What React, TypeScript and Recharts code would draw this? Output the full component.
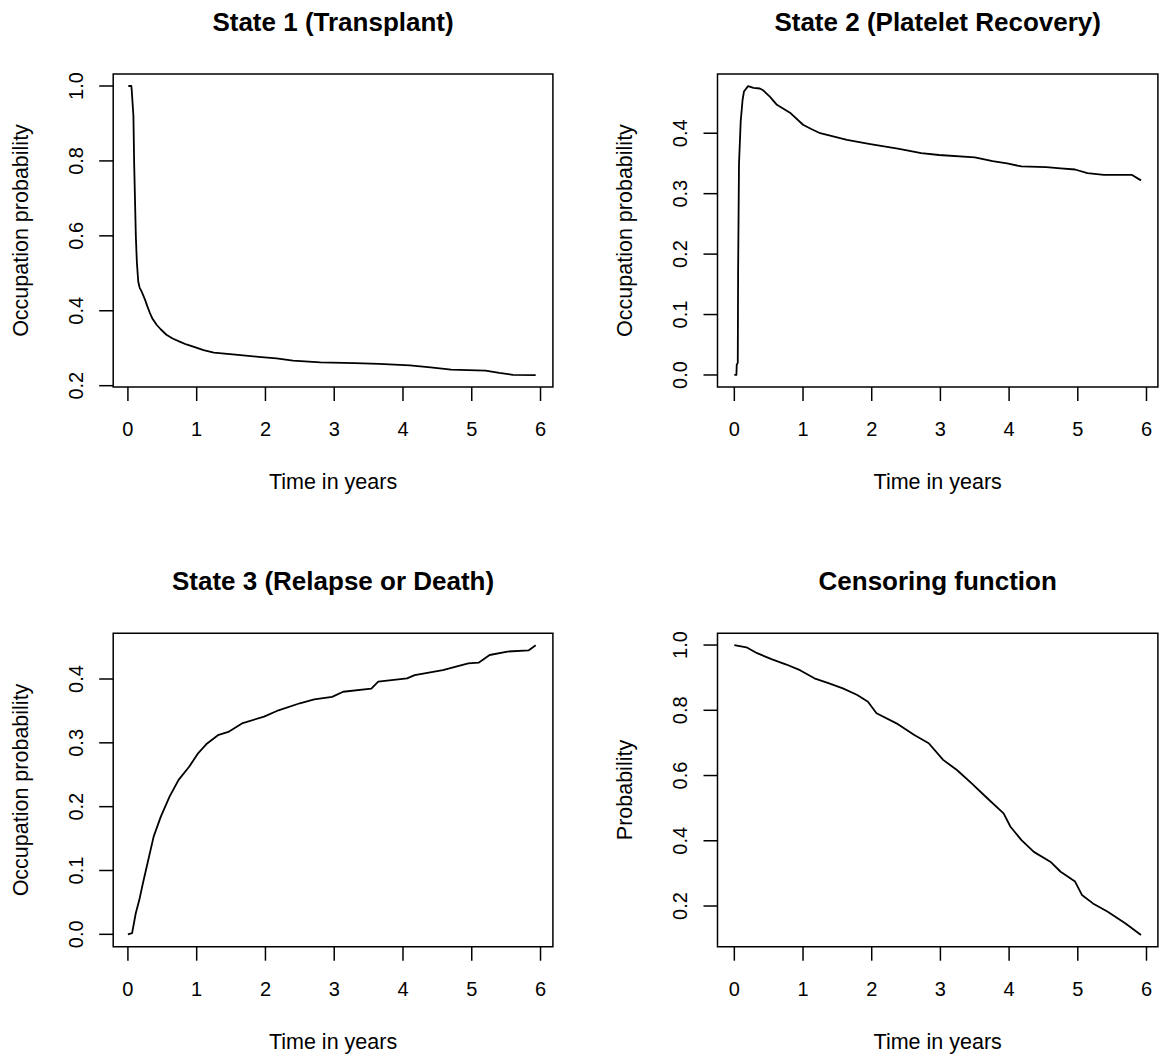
import React from 'react';
import { LineChart, Line, XAxis, YAxis, ReferenceArea } from 'recharts';

const FONT = '"Liberation Sans", Arial, Helvetica, sans-serif';

// ---- Data (time in years, probability) ----
const state1Time = [0.006, 0.05, 0.055, 0.08, 0.09, 0.1, 0.115, 0.13, 0.15, 0.17, 0.2, 0.25, 0.28, 0.32, 0.36, 0.42, 0.48, 0.56, 0.65, 0.76, 0.85, 0.95, 1.1, 1.25, 1.6, 1.9, 2.16, 2.4, 2.8, 3.3, 3.65, 4.1, 4.4, 4.7, 5.2, 5.4, 5.6, 5.93];
const state1Prob = [1.0, 1.0, 0.99, 0.92, 0.8, 0.72, 0.6, 0.53, 0.478, 0.462, 0.451, 0.429, 0.413, 0.394, 0.378, 0.362, 0.35, 0.336, 0.326, 0.317, 0.31, 0.304, 0.295, 0.288, 0.282, 0.277, 0.273, 0.267, 0.262, 0.26, 0.258, 0.254, 0.249, 0.243, 0.24, 0.234, 0.229, 0.228];

const state2Time = [0, 0.03, 0.035, 0.05, 0.055, 0.068, 0.093, 0.12, 0.14, 0.2, 0.28, 0.37, 0.42, 0.52, 0.62, 0.81, 1.0, 1.12, 1.25, 1.64, 1.98, 2.4, 2.72, 2.98, 3.5, 3.76, 3.97, 4.18, 4.54, 4.75, 4.96, 5.14, 5.38, 5.79, 5.92];
const state2Prob = [0, 0, 0.017, 0.02, 0.17, 0.35, 0.42, 0.455, 0.469, 0.478, 0.475, 0.474, 0.471, 0.46, 0.447, 0.434, 0.414, 0.407, 0.4, 0.389, 0.382, 0.374, 0.367, 0.364, 0.36, 0.354, 0.35, 0.345, 0.344, 0.342, 0.34, 0.334, 0.331, 0.331, 0.322];

const state3Time = [0, 0.061, 0.114, 0.166, 0.218, 0.295, 0.374, 0.477, 0.607, 0.737, 0.893, 1.023, 1.152, 1.309, 1.46, 1.67, 1.98, 2.19, 2.5, 2.71, 2.97, 3.13, 3.54, 3.64, 4.06, 4.17, 4.58, 4.95, 5.1, 5.26, 5.52, 5.83, 5.93];
const state3Prob = [0, 0.002, 0.033, 0.054, 0.08, 0.116, 0.153, 0.184, 0.216, 0.242, 0.263, 0.284, 0.299, 0.312, 0.317, 0.331, 0.341, 0.351, 0.362, 0.368, 0.372, 0.38, 0.385, 0.396, 0.401, 0.406, 0.414, 0.4246, 0.4255, 0.4376, 0.443, 0.445, 0.453];

const censTime = [0, 0.176, 0.332, 0.54, 0.748, 0.956, 1.165, 1.37, 1.58, 1.79, 1.945, 2.07, 2.36, 2.62, 2.83, 3.04, 3.24, 3.455, 3.61, 3.71, 3.92, 4.02, 4.18, 4.36, 4.6, 4.75, 4.96, 5.06, 5.22, 5.43, 5.69, 5.92];
const censProb = [1.0, 0.993, 0.975, 0.957, 0.941, 0.923, 0.898, 0.883, 0.867, 0.847, 0.826, 0.791, 0.76, 0.724, 0.699, 0.648, 0.617, 0.576, 0.545, 0.525, 0.484, 0.443, 0.402, 0.366, 0.336, 0.305, 0.275, 0.234, 0.208, 0.183, 0.147, 0.111];

// ---- Ticks & labels ----
const xTicks = [0, 1, 2, 3, 4, 5, 6];
const yTicksS1 = [0.2, 0.4, 0.6, 0.8, 1.0];
const yTicksS2 = [0.0, 0.1, 0.2, 0.3, 0.4];
const yTicksS3 = [0.0, 0.1, 0.2, 0.3, 0.4];
const yTicksCens = [0.2, 0.4, 0.6, 0.8, 1.0];

const titles = ['State 1 (Transplant)', 'State 2 (Platelet Recovery)', 'State 3 (Relapse or Death)', 'Censoring function'];
const xLabel = 'Time in years';
const yLabels = ['Occupation probability', 'Occupation probability', 'Occupation probability', 'Probability'];

const toRows = (t: number[], p: number[]) => t.map((v, i) => ({ t: v, p: p[i] }));

const TICK_FS = 20;
const TITLE_FS = 26;
const LABEL_FS = 21.5;

const XTick = (props: any) => {
  const { x, y, payload } = props;
  return (
    <text x={x} y={y + 35} textAnchor="middle" fontFamily={FONT} fontSize={TICK_FS} fill="#000">
      {String(payload.value)}
    </text>
  );
};

const YTick = (props: any) => {
  const { x, y, payload } = props;
  const bx = x - 16.5;
  return (
    <text x={bx} y={y} textAnchor="middle" transform={`rotate(-90 ${bx} ${y})`} fontFamily={FONT} fontSize={TICK_FS} fill="#000">
      {Number(payload.value).toFixed(1)}
    </text>
  );
};

type PanelProps = {
  cx: number; cy: number; cw: number; ch: number;
  L: number; R: number; T: number; B: number;
  xDomain: [number, number]; yDomain: [number, number];
  yTicks: number[];
  rows: { t: number; p: number }[];
};

const XH = 60;

const Panel = ({ cx, cy, cw, ch, L, R, T, B, xDomain, yDomain, yTicks, rows }: PanelProps) => {
  const margin = { top: T - cy, left: 0, right: cx + cw - R, bottom: cy + ch - B - XH };
  return (
    <div style={{ position: 'absolute', left: cx, top: cy, width: cw, height: ch }}>
      <LineChart width={cw} height={ch} data={rows} margin={margin}>
        <XAxis
          dataKey="t"
          type="number"
          domain={xDomain}
          allowDataOverflow
          ticks={xTicks}
          interval={0}
          height={XH}
          axisLine={false}
          tickLine={{ stroke: '#000', strokeWidth: 1.5 }}
          tickSize={14}
          tickMargin={0}
          tick={<XTick />}
        />
        <YAxis
          type="number"
          domain={yDomain}
          allowDataOverflow
          ticks={yTicks}
          interval={0}
          width={L - cx}
          axisLine={false}
          tickLine={{ stroke: '#000', strokeWidth: 1.5 }}
          tickSize={14}
          tickMargin={0}
          tick={<YTick />}
        />
        <ReferenceArea
          x1={xDomain[0]}
          x2={xDomain[1]}
          y1={yDomain[0]}
          y2={yDomain[1]}
          fill="none"
          fillOpacity={0}
          stroke="#000"
          strokeWidth={1.5}
        />
        <Line
          type="linear"
          dataKey="p"
          stroke="#000"
          strokeWidth={1.8}
          strokeLinejoin="round"
          dot={false}
          activeDot={false}
          isAnimationActive={false}
        />
      </LineChart>
    </div>
  );
};

const panels = [
  { cx: 0, cy: 0, cw: 580, ch: 531, L: 113.2, R: 552.9, T: 74, B: 387, xDomain: [-0.214, 6.18] as [number, number], yDomain: [0.1965, 1.032] as [number, number], yTicks: yTicksS1, rows: toRows(state1Time, state1Prob) },
  { cx: 580, cy: 0, cw: 579, ch: 531, L: 717.5, R: 1157.9, T: 74, B: 387, xDomain: [-0.245, 6.166] as [number, number], yDomain: [-0.0199, 0.498] as [number, number], yTicks: yTicksS2, rows: toRows(state2Time, state2Prob) },
  { cx: 0, cy: 531, cw: 580, ch: 531, L: 113.2, R: 552.9, T: 633.3, B: 946.7, xDomain: [-0.214, 6.18] as [number, number], yDomain: [-0.0194, 0.4716] as [number, number], yTicks: yTicksS3, rows: toRows(state3Time, state3Prob) },
  { cx: 580, cy: 531, cw: 579, ch: 531, L: 717.5, R: 1157.9, T: 633.3, B: 946.7, xDomain: [-0.245, 6.166] as [number, number], yDomain: [0.0753, 1.036] as [number, number], yTicks: yTicksCens, rows: toRows(censTime, censProb) },
];

export default function App() {
  return (
    <div style={{ position: 'absolute', left: 0, top: 0, width: 1159, height: 1062, background: '#fff', overflow: 'hidden' }}>
      {panels.map((p, i) => (
        <Panel key={i} {...p} />
      ))}
      <svg width={1159} height={1062} style={{ position: 'absolute', left: 0, top: 0, pointerEvents: 'none' }}>
        {panels.map((p, i) => {
          const midX = (p.L + p.R) / 2;
          const midY = (p.T + p.B) / 2;
          const titleY = p.T - 43;
          const xlabY = p.B + 102;
          const ylabX = p.L - 85.2;
          return (
            <g key={i}>
              <text x={midX} y={titleY} textAnchor="middle" fontFamily={FONT} fontSize={TITLE_FS} fontWeight="bold" fill="#000">
                {titles[i]}
              </text>
              <text x={midX} y={xlabY} textAnchor="middle" fontFamily={FONT} fontSize={LABEL_FS} fill="#000">
                {xLabel}
              </text>
              <text x={ylabX} y={midY} textAnchor="middle" transform={`rotate(-90 ${ylabX} ${midY})`} fontFamily={FONT} fontSize={LABEL_FS} fill="#000">
                {yLabels[i]}
              </text>
            </g>
          );
        })}
      </svg>
    </div>
  );
}
